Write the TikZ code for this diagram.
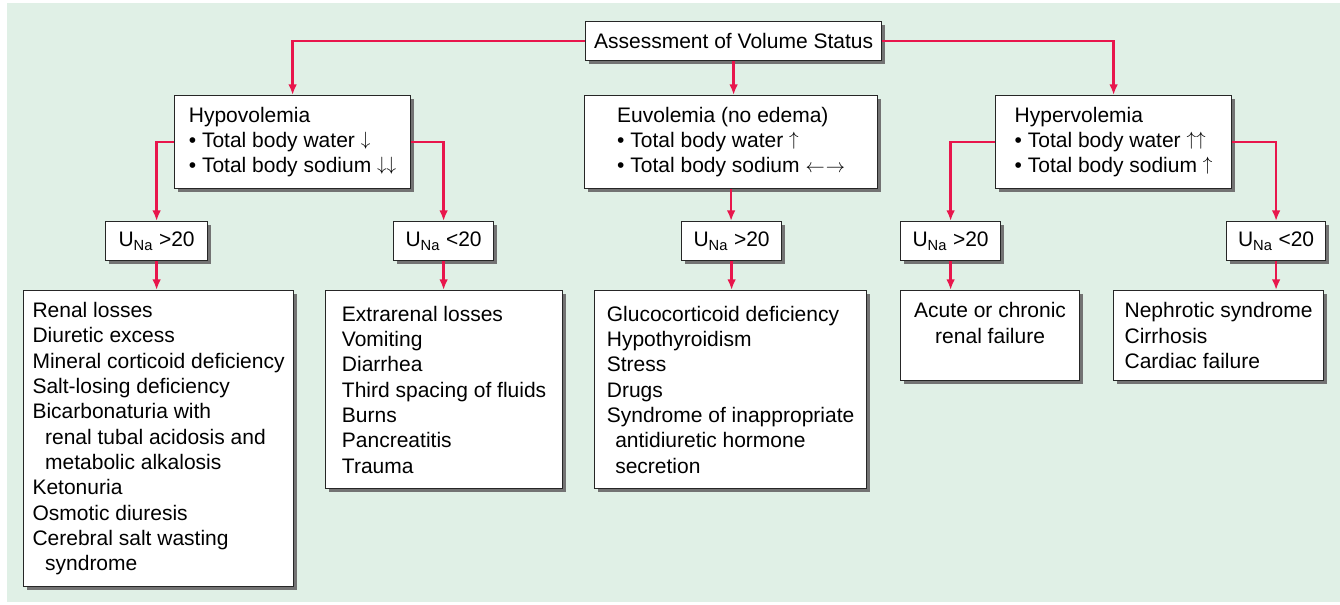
\documentclass[tikz,border=0pt]{standalone}
\usepackage{fontspec}
\setmainfont{Liberation Sans}
\usepackage{tikz}
\usetikzlibrary{positioning,arrows.meta,shadows}

\definecolor{bggreen}{RGB}{224,240,230}
\definecolor{flowred}{RGB}{232,22,76}

\newcommand{\dnarr}{\raisebox{0.12em}{$\downarrow$}}
\newcommand{\uparr}{\raisebox{0.12em}{$\uparrow$}}

\begin{document}
\begin{tikzpicture}[x=0.75pt,y=-0.75pt,
	box/.style={draw=black!85,line width=0.9pt,fill=white,anchor=north west,align=left,inner sep=0pt,
		font=\fontsize{15.75}{19}\selectfont,
		drop shadow={shadow xshift=2.2pt,shadow yshift=-2.2pt,fill=black!55,opacity=1}},
	small/.style={minimum height=29.25pt},
	arr/.style={draw=flowred,line width=1.8pt,-{Latex[length=8pt,width=6.5pt]}}]

		\useasboundingbox (0,0) rectangle (1340,604);
		\fill[bggreen] (7,3) rectangle (1340,602);

		%top node
		\node[box,small,minimum width=222pt] (assess) at (585,21) {Assessment of Volume Status};

		%volume nodes
		\node[box,minimum width=177pt,minimum height=69.75pt] (hypo) at (174,95) {Hypovolemia\\\textbullet\ Total body water \dnarr\\\textbullet\ Total body sodium \dnarr\dnarr};
		\node[box,minimum width=219.75pt,minimum height=69.75pt] (euvo) at (584,95) {Euvolemia (no edema)\\\textbullet\ Total body water \uparr\\\textbullet\ Total body sodium $\leftarrow\mkern1mu\rightarrow$};
		\node[box,minimum width=177pt,minimum height=69.75pt] (hyper) at (995,95) {Hypervolemia\\\textbullet\ Total body water \uparr\uparr\\\textbullet\ Total body sodium \uparr};

		%urine sodium nodes
		\node[box,small,minimum width=76.5pt] (una1) at (105,221) {U\textsubscript{Na} >20};
		\node[box,small,minimum width=75pt] (una2) at (393,221) {U\textsubscript{Na} <20};
		\node[box,small,minimum width=75pt] (una3) at (681,221) {U\textsubscript{Na} >20};
		\node[box,small,minimum width=75pt] (una4) at (900,221) {U\textsubscript{Na} >20};
		\node[box,small,minimum width=74.25pt] (una5) at (1226,221) {U\textsubscript{Na} <20};

		%cause nodes
		\node[box,minimum width=202.5pt,minimum height=222pt] (renal) at (23,290) {Renal losses\\Diuretic excess\\Mineral corticoid deficiency\\Salt-losing deficiency\\Bicarbonaturia with\\\hspace*{0.6em}renal tubal acidosis and\\\hspace*{0.6em}metabolic alkalosis\\Ketonuria\\Osmotic diuresis\\Cerebral salt wasting\\\hspace*{0.6em}syndrome};
		\node[box,minimum width=177.75pt,minimum height=148.5pt] (extra) at (325,290) {Extrarenal losses\\Vomiting\\Diarrhea\\Third spacing of fluids\\Burns\\Pancreatitis\\Trauma};
		\node[box,minimum width=204pt,minimum height=148.5pt] (gluco) at (594,290) {Glucocorticoid deficiency\\Hypothyroidism\\Stress\\Drugs\\Syndrome of inappropriate\\\hspace*{0.4em}antidiuretic hormone\\\hspace*{0.4em}secretion};
		\node[box,minimum width=134.25pt,minimum height=67.5pt,align=center] (acute) at (900,290) {Acute or chronic\\renal failure\\\mbox{}};
		\node[box,minimum width=157.5pt,minimum height=67.5pt] (nephro) at (1113,290) {Nephrotic syndrome\\Cirrhosis\\Cardiac failure};

		%edges
		\draw[arr] (assess.west) -| (hypo.north);
		\draw[arr] (assess.east) -| (hyper.north);
		\draw[arr] (assess.south) -- (assess.south |- euvo.north);
		\draw[arr] (hypo.west) -| (una1.north);
		\draw[arr] (hypo.east) -| (una2.north);
		\draw[arr] (euvo.south) -- (euvo.south |- una3.north);
		\draw[arr] (hyper.west) -| (una4.north);
		\draw[arr] (hyper.east) -| (una5.north);
		\draw[arr] (una1.south) -- (una1.south |- renal.north);
		\draw[arr] (una2.south) -- (una2.south |- extra.north);
		\draw[arr] (una3.south) -- (una3.south |- gluco.north);
		\draw[arr] (una4.south) -- (una4.south |- acute.north);
		\draw[arr] (una5.south) -- (una5.south |- nephro.north);

\end{tikzpicture}
\end{document}
